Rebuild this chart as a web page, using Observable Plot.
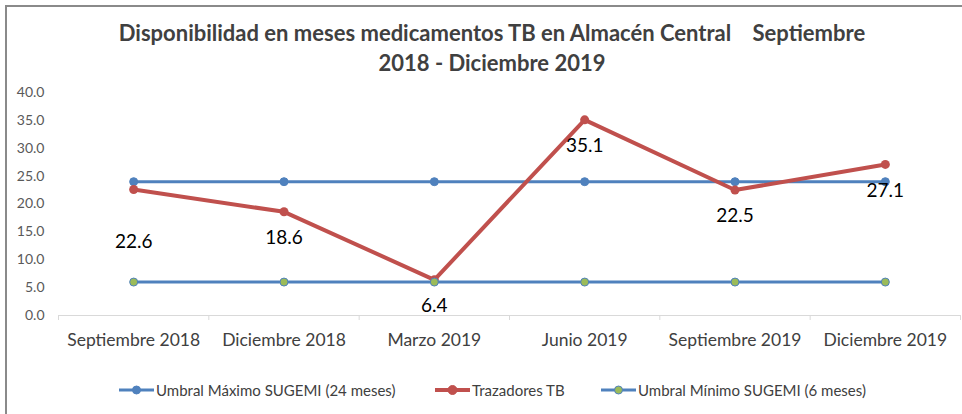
<!DOCTYPE html>
<html>
<head>
<meta charset="utf-8">
<script src="https://cdn.jsdelivr.net/npm/d3@7"></script>
<script src="https://cdn.jsdelivr.net/npm/@observablehq/plot@0.6"></script>
<style>
  html, body { margin: 0; padding: 0; background: #fff; }
  #wrap { position: relative; width: 962px; height: 414px; overflow: hidden; font-family: Lato, "Noto Sans", sans-serif; }
  #frame { position: absolute; left: 5px; top: 5px; width: 970px; height: 420px; border-top: 2px solid #8a8a8a; border-left: 2px solid #8a8a8a; }
  #title { position: absolute; top: 18px; left: 22px; width: 940px; text-align: center; font-weight: bold; font-size: 22px; line-height: 30px; color: #404040; }
  #chart { position: absolute; left: 0; top: 80px; }
  #legend { position: absolute; top: 380px; left: 0; width: 962px; height: 20px; font-size: 15px; color: #404040; }
  .li { position: absolute; top: 0; display: flex; align-items: center; height: 20px; white-space: nowrap; }
</style>
</head>
<body>
<div id="wrap">
  <div id="frame"></div>
  <div id="title">Disponibilidad en meses medicamentos TB en Almacén Central &nbsp;&nbsp; Septiembre<br>2018 - Diciembre 2019</div>
  <div id="chart"></div>
  <div id="legend"></div>
</div>
<script>
const categories = ["Septiembre 2018", "Diciembre 2018", "Marzo 2019", "Junio 2019", "Septiembre 2019", "Diciembre 2019"];
const umbralMaximo = [24, 24, 24, 24, 24, 24];
const trazadores = [22.6, 18.6, 6.4, 35.1, 22.5, 27.1];
const umbralMinimo = [6, 6, 6, 6, 6, 6];
const yTicks = [0, 5, 10, 15, 20, 25, 30, 35, 40];
const seriesNames = ["Umbral Máximo SUGEMI (24 meses)", "Trazadores TB", "Umbral Mínimo SUGEMI (6 meses)"];

const BLUE = "#4F81BD", RED = "#C0504D", GREEN = "#9BBB59";

const rows = (arr) => arr.map((v, i) => ({i, v}));
const maxRows = rows(umbralMaximo);
const trzRows = rows(trazadores);
const minRows = rows(umbralMinimo);
const boundaries = d3.range(categories.length + 1).map(i => i - 0.5);

const plot = Plot.plot({
  width: 962,
  height: 270,
  marginLeft: 58,
  marginRight: 2,
  marginTop: 12,
  marginBottom: 35,
  style: {fontFamily: "Lato, 'Noto Sans', sans-serif", background: "transparent", overflow: "visible"},
  x: {type: "linear", domain: [-0.5, categories.length - 0.5]},
  y: {domain: [0, 40]},
  marks: [
    Plot.axisY({ticks: yTicks, tickFormat: d3.format(".1f"), tickSize: 0, tickPadding: 14, fontSize: 14, color: "#595959", label: null}),
    Plot.ruleY([0], {stroke: "#d9d9d9", strokeWidth: 1}),
    Plot.axisX({ticks: boundaries, tickSize: 5, tickFormat: () => "", stroke: "#d9d9d9", label: null}),
    Plot.axisX({ticks: d3.range(categories.length), tickSize: 0, tickPadding: 18, tickFormat: i => categories[i], fontSize: 17.5, color: "#404040", label: null}),
    Plot.line(maxRows, {x: "i", y: "v", stroke: BLUE, strokeWidth: 3}),
    Plot.dot(maxRows, {x: "i", y: "v", r: 4, fill: BLUE, stroke: BLUE, strokeWidth: 1}),
    Plot.line(trzRows, {x: "i", y: "v", stroke: RED, strokeWidth: 4}),
    Plot.dot(trzRows, {x: "i", y: "v", r: 4.5, fill: RED}),
    Plot.line(minRows, {x: "i", y: "v", stroke: BLUE, strokeWidth: 3}),
    Plot.dot(minRows, {x: "i", y: "v", r: 4, fill: GREEN, stroke: BLUE, strokeWidth: 1}),
    Plot.text(trzRows.slice(0, 1), {x: "i", y: "v", text: d => d.v.toFixed(1), dy: 52, fontSize: 19, fill: "#000"}),
    Plot.text(trzRows.slice(1), {x: "i", y: "v", text: d => d.v.toFixed(1), dy: 26, fontSize: 19, fill: "#000"})
  ]
});
document.getElementById("chart").appendChild(plot);

// Legend
const legendColors = [{line: BLUE, fill: BLUE, stroke: BLUE}, {line: RED, fill: RED, stroke: RED}, {line: BLUE, fill: GREEN, stroke: BLUE}];
const legendLeft = [119, 435, 601];
const lg = document.getElementById("legend");
seriesNames.forEach((name, k) => {
  const c = legendColors[k];
  const item = document.createElement("div");
  item.className = "li";
  item.style.left = legendLeft[k] + "px";
  const w = 35;
  item.innerHTML = `<svg width="${w}" height="20" style="margin-right:2px"><line x1="0" x2="${w}" y1="10" y2="10" stroke="${c.line}" stroke-width="${k === 1 ? 4 : 3}"/><circle cx="${w/2}" cy="10" r="${k===1?4.5:4}" fill="${c.fill}" stroke="${c.stroke}"/></svg><span>${name}</span>`;
  lg.appendChild(item);
});
</script>
</body>
</html>
